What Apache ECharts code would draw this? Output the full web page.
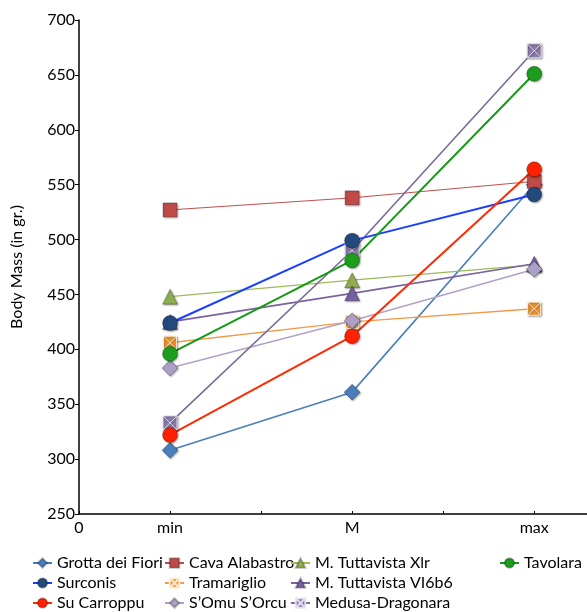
<!DOCTYPE html>
<html>
<head>
<meta charset="utf-8">
<script src="https://cdn.jsdelivr.net/npm/echarts@6/dist/echarts.min.js"></script>
<style>html,body{margin:0;padding:0;background:#fff}#c{width:587px;height:612px}</style>
</head>
<body>
<div id="c"></div>
<script>
var categories = ['min', 'M', 'max'];
var yTicks = [250, 300, 350, 400, 450, 500, 550, 600, 650, 700];

var grottaDeiFiori   = [308, 361, 550];
var surconis         = [424, 499, 541];
var suCarroppu       = [322, 412, 564];
var cavaAlabastro    = [527, 538, 553];
var tramariglio      = [406, 425, 437];
var sOmuSOrcu        = [383, 426, 473];
var tuttavistaXlr    = [448, 463, 477];
var tuttavistaVI6b6  = [425, 451, 478];
var medusaDragonara  = [333, 490, 672];
var tavolara         = [396, 481, 651];

var seriesNames = {
  grotta: 'Grotta dei Fiori', surconis: 'Surconis', carroppu: 'Su Carroppu',
  cava: 'Cava Alabastro', tram: 'Tramariglio', somu: 'S\u2019Omu S\u2019Orcu',
  xlr: 'M. Tuttavista Xlr', vi: 'M. Tuttavista VI6b6', medusa: 'Medusa-Dragonara',
  tav: 'Tavolara'
};

var sqX = 'path://M0,0L10,0L10,10L0,10Z M0,0L10,10 M10,0L0,10';

function pts(vals) {
  return vals.map(function (v, i) { return [i + 0.5, v]; });
}
function mk(name, vals, lineColor, lineWidth, symbol, fill, size, border) {
  return {
    name: name, type: 'line', data: pts(vals),
    symbol: symbol, symbolSize: size,
    lineStyle: { color: lineColor, width: lineWidth },
    itemStyle: {
      color: fill,
      borderColor: border || 'rgba(0,0,0,0.25)',
      borderWidth: 1,
      shadowBlur: 2, shadowColor: 'rgba(0,0,0,0.35)', shadowOffsetX: 1, shadowOffsetY: 1
    },
    emphasis: { disabled: true },
    animation: false
  };
}

var series = [
  mk(seriesNames.grotta, grottaDeiFiori, '#4A7EBB', 1.6, 'diamond', '#4A7EBB', 16),
  mk(seriesNames.cava, cavaAlabastro, '#C0504D', 1, 'rect', '#BE4B48', 14),
  mk(seriesNames.xlr, tuttavistaXlr, '#9BBB59', 1.3, 'triangle', '#8FAE50', 15),
  mk(seriesNames.vi, tuttavistaVI6b6, '#7B62A0', 1.6, 'triangle', '#7560A0', 15),
  mk(seriesNames.tram, tramariglio, '#F29A4B', 1.4, sqX, '#F0922B', 13, 'rgba(255,240,220,0.9)'),
  mk(seriesNames.somu, sOmuSOrcu, '#B3A2C7', 1.6, 'diamond', '#ADA0C8', 16),
  mk(seriesNames.medusa, medusaDragonara, '#7B6A98', 1.6, sqX, '#8A7BAA', 14, 'rgba(235,230,245,0.9)'),
  mk(seriesNames.surconis, surconis, '#1A3FFF', 2, 'circle', '#234A7D', 15),
  mk(seriesNames.carroppu, suCarroppu, '#FF2A00', 2, 'circle', '#FF2200', 15),
  mk(seriesNames.tav, tavolara, '#139A13', 2, 'circle', '#1C9E1C', 15)
];

var legendCols = [
  { left: 32, data: [seriesNames.grotta, seriesNames.surconis, seriesNames.carroppu] },
  { left: 164, data: [seriesNames.cava, seriesNames.tram, seriesNames.somu] },
  { left: 290, data: [seriesNames.xlr, seriesNames.vi, seriesNames.medusa] },
  { left: 499, data: [seriesNames.tav] }
];

var font = 'Lato, "Open Sans", sans-serif';
var legends = legendCols.map(function (c) {
  return {
    orient: 'vertical', left: c.left, top: 555, padding: 0,
    data: c.data,
    itemWidth: 19, itemHeight: 12, itemGap: 4,
    textStyle: { fontFamily: font, fontSize: 16, lineHeight: 16, color: '#000' },
    selectedMode: false
  };
});

var xLabelMap = { '0': '0', '0.5': categories[0], '1.5': categories[1], '2.5': categories[2] };

var chart = echarts.init(document.getElementById('c'), null, { renderer: 'canvas' });
chart.setOption({
  animation: false,
  backgroundColor: '#fff',
  grid: { left: 79, right: 0, top: 20, bottom: 98, containLabel: false },
  legend: legends,
  xAxis: {
    type: 'value', min: 0, max: 2.79, interval: 0.5,
    axisLine: { show: true, lineStyle: { color: '#000', width: 1.5 } },
    axisTick: { show: true, inside: true, length: 3, lineStyle: { color: '#000' } },
    splitLine: { show: false },
    axisLabel: {
      showMaxLabel: false,
      fontFamily: font, fontSize: 16, color: '#000', margin: 6,
      formatter: function (v) { var k = String(Math.round(v * 10) / 10); return xLabelMap[k] !== undefined ? xLabelMap[k] : ''; }
    }
  },
  yAxis: {
    type: 'value', min: yTicks[0], max: yTicks[yTicks.length - 1], interval: 50,
    name: 'Body Mass (in gr.)', nameLocation: 'middle', nameGap: 54,
    nameTextStyle: { fontFamily: font, fontSize: 16, color: '#000' },
    axisLine: { show: true, lineStyle: { color: '#000', width: 1.5 } },
    axisTick: { show: true, length: 4, lineStyle: { color: '#000' } },
    splitLine: { show: false },
    axisLabel: { fontFamily: font, fontSize: 16, color: '#000', margin: 4 }
  },
  series: series
});
</script>
</body>
</html>
